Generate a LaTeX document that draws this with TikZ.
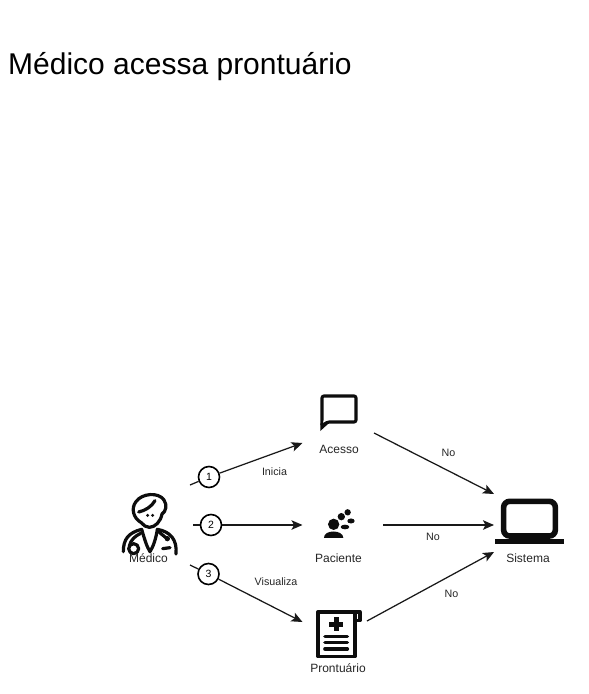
\documentclass[tikz,border=0pt]{standalone}
\usepackage{fontspec}
\setmainfont{Liberation Sans}
\usetikzlibrary{arrows.meta}
\tikzset{
  conn/.style={draw=black!90,line width=1.25pt},
  arrowed/.style={conn,-{Stealth[length=11pt,width=9.5pt,inset=2.5pt]}},
  badge/.style={circle,draw=black,line width=1.6pt,fill=white,inner sep=0pt,minimum size=21pt,font=\fontsize{10.5}{12}\selectfont},
  lbl/.style={inner sep=0pt,text=black!85,font=\fontsize{12}{14}\selectfont},
  edgelbl/.style={inner sep=0pt,text=black!85,font=\fontsize{10.7}{12}\selectfont},
  icon/.style={line width=3.2pt,line cap=round,line join=round,draw=black!95},
}
\begin{document}
\begin{tikzpicture}[x=1pt,y=-1pt]
\useasboundingbox[fill=white] (0,0) rectangle (589,694);
\node[inner sep=0pt,anchor=west,font=\fontsize{30}{33}\selectfont] (title) at (8,67) {Médico acessa prontuário};

% doctor icon
\begin{scope}[shift={(100,450)},x=0.3333pt,y=-0.3333pt]
  \draw[icon] (124,218) .. controls (100,205) and (92,175) .. (108,155) .. controls (125,130) and (175,125) .. (192,150) .. controls (202,165) and (198,185) .. (186,192) .. controls (182,215) and (165,232) .. (148,232) .. controls (138,232) and (130,226) .. (124,218);
  \draw[icon] (116,186) .. controls (135,182) and (155,170) .. (165,152);
  \fill[black!95] (143,196) circle (5) (158,196) circle (5);
  \draw[icon] (70,305) .. controls (70,268) and (85,248) .. (125,238) .. controls (133,265) and (140,290) .. (150,305) .. controls (160,290) and (168,265) .. (172,238) .. controls (212,245) and (232,270) .. (228,312);
  \draw[icon] (122,250) .. controls (105,258) and (92,270) .. (88,288);
  \draw[icon] (101,296) circle (15);
  \draw[icon] (172,242) -- (200,265);
  \fill[black!95] (202,266) circle (8);
  \draw[icon] (188,296) -- (210,293);
\end{scope}

% speech bubble icon
\begin{scope}[shift={(290,380)},x=0.3333pt,y=-0.3333pt]
  \draw[line width=3.1pt,line join=miter,draw=black!95,rounded corners=2pt] (96,135) -- (96,48) -- (198,48) -- (198,126) -- (112,126) -- (96,135);
  \fill[black!95] (91,130) -- (91,153) -- (115,131) -- cycle;
  \fill[white] (100,122) -- (100,129) -- (108,122) -- cycle;
\end{scope}

% patient icon
\begin{scope}[shift={(290,380)},x=0.3333pt,y=-0.3333pt]
  \fill[black!95] (131,433) circle (17);
  \fill[black!95] (102,474) .. controls (100,448) and (160,448) .. (160,474) -- cycle;
  \fill[black!95] (154,410) circle (11);
  \fill[black!95] (173,397) circle (9.5);
  \fill[black!95] (165,441) ellipse (13 and 7);
  \fill[black!95] (183,423) ellipse (11 and 7.5);
\end{scope}

% record icon
\begin{scope}[shift={(290,590)},x=0.3333pt,y=-0.3333pt]
  \draw[line width=3.3pt,line join=round,draw=black!95] (84,66) rectangle (195,200);
  \draw[line width=3.3pt,line join=round,draw=black!95] (195,66) -- (210,66) -- (210,92) -- (195,92);
  \fill[black!95] (131,82) rectangle (146,123);
  \fill[black!95] (118,96) rectangle (159,110);
  \draw[line width=3.6pt,line cap=round,draw=black!95] (105,140) -- (172,140) (105,158) -- (172,158) (105,177) -- (172,177);
\end{scope}

% laptop icon
\begin{scope}[shift={(480,480)},x=0.3333pt,y=-0.3333pt]
  \draw[line width=5.6pt,draw=black!95,rounded corners=6pt] (71,64) rectangle (226,168);
  \fill[black!95] (45,176) rectangle (252,192);
\end{scope}

% labels
\node[lbl] (acesso) at (339,449) {Acesso};
\node[lbl] (paciente) at (338.5,558) {Paciente};
\node[lbl] (prontuario) at (338,668) {Prontuário};
\node[lbl] (sistema) at (528,558) {Sistema};
\node[lbl] (medico) at (148.5,558) {Médico};

% badges
\node[badge] (b1) at (209,477) {1};
\node[badge] (b2) at (211,525) {2};
\node[badge] (b3) at (208.5,574) {3};

% connector ends
\coordinate (m1) at (190,485);
\coordinate (m2) at (193,525);
\coordinate (m3) at (190,565);
\coordinate (acessoIn) at (302.5,443);
\coordinate (pacienteIn) at (302.5,525);
\coordinate (prontIn) at (302.5,622);
\coordinate (acessoOut) at (374,433);
\coordinate (pacienteOut) at (383,525);
\coordinate (prontOut) at (367,621);
\coordinate (sisA) at (494,494);
\coordinate (sisP) at (494,525);
\coordinate (sisC) at (494,552);

\draw[conn] (m1) -- (b1);
\draw[arrowed] (b1) -- (acessoIn);
\draw[conn] (m2) -- (b2);
\draw[arrowed] (b2) -- (pacienteIn);
\draw[conn] (m3) -- (b3);
\draw[arrowed] (b3) -- (prontIn);
\draw[arrowed] (acessoOut) -- (sisA);
\draw[arrowed] (pacienteOut) -- (sisP);
\draw[arrowed] (prontOut) -- (sisC);

\node[edgelbl] (l1) at (274.5,472) {Inicia};
\node[edgelbl] (l2) at (276,582) {Visualiza};
\node[edgelbl] (l3) at (448.5,452.5) {No};
\node[edgelbl] (l4) at (433,536.5) {No};
\node[edgelbl] (l5) at (451.5,593.5) {No};
\end{tikzpicture}
\end{document}
